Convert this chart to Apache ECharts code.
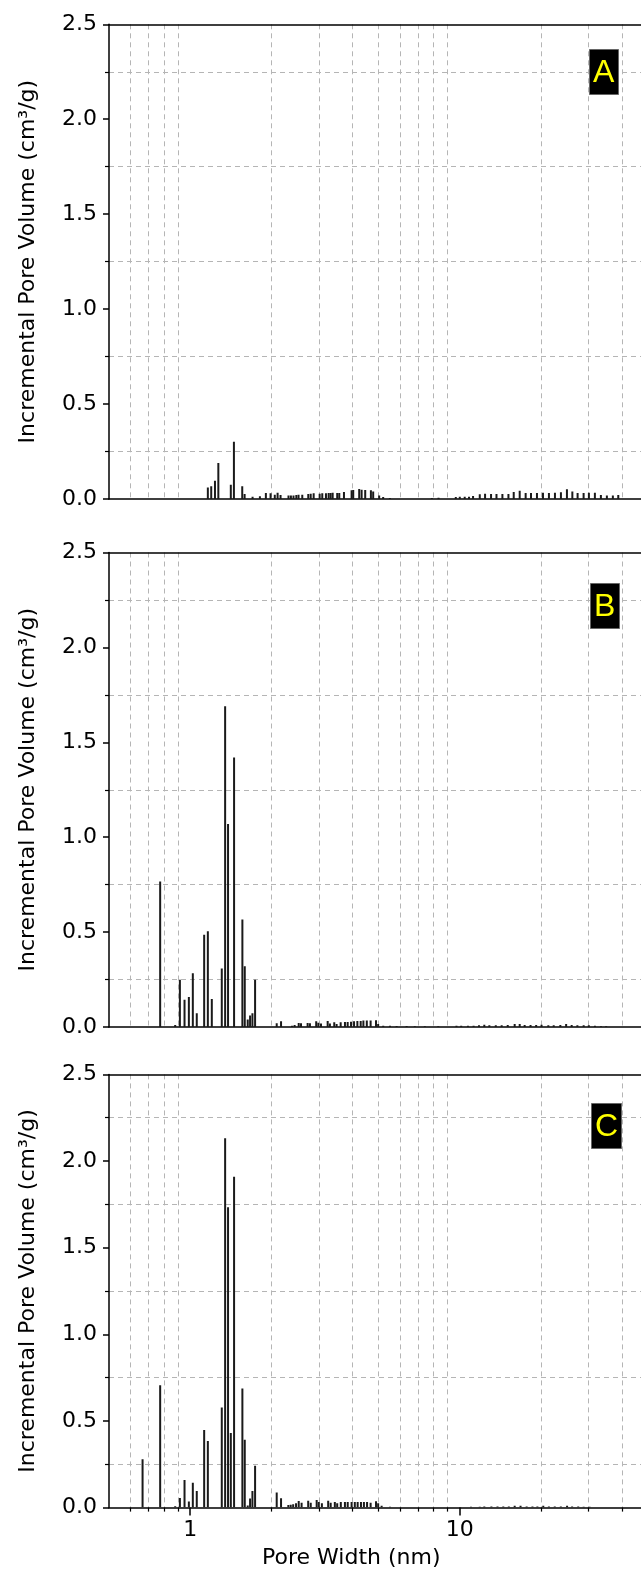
<!DOCTYPE html>
<html><head><meta charset="utf-8">
<script src="https://cdn.jsdelivr.net/npm/echarts@6/dist/echarts.min.js"></script>
<style>html,body{margin:0;padding:0;background:#fff}#c{width:641px;height:1573px}</style>
</head><body><div id="c"></div>
<script>
// ---- data (pore width in nm, incremental pore volume in cm3/g) ----
const widthA = [1.163,1.197,1.236,1.272,1.415,1.453,1.560,1.592,1.704,1.814,1.909,1.987,2.060,2.110,2.164,2.316,2.364,2.417,2.476,2.523,2.605,2.742,2.799,2.871,3.022,3.090,3.189,3.263,3.319,3.377,3.511,3.573,3.719,3.970,4.025,4.236,4.324,4.459,4.681,4.773,5.024,5.198,5.505,7.876,8.339,9.665,10.00,10.43,10.82,11.20,11.86,12.41,13.06,13.68,14.39,15.15,15.85,16.68,17.55,18.37,19.33,20.35,21.41,22.54,23.72,24.97,26.15,27.35,28.79,30.12,31.70,33.37,35.12,36.96,38.71];
const volA = [0.060,0.067,0.096,0.190,0.075,0.302,0.067,0.026,0.012,0.014,0.032,0.030,0.023,0.033,0.021,0.018,0.018,0.019,0.021,0.023,0.023,0.026,0.028,0.030,0.028,0.030,0.030,0.032,0.032,0.033,0.032,0.032,0.037,0.046,0.047,0.053,0.049,0.047,0.046,0.039,0.019,0.011,0.005,0.005,0.007,0.011,0.012,0.012,0.012,0.016,0.025,0.028,0.026,0.026,0.026,0.026,0.037,0.044,0.032,0.032,0.032,0.033,0.032,0.033,0.035,0.051,0.039,0.032,0.032,0.033,0.033,0.021,0.019,0.019,0.021];

const widthB = [0.774,0.880,0.916,0.953,0.989,1.023,1.058,1.127,1.163,1.203,1.310,1.348,1.382,1.455,1.562,1.594,1.635,1.668,1.702,1.741,2.094,2.173,2.387,2.440,2.527,2.577,2.727,2.781,2.934,2.988,3.056,3.236,3.298,3.423,3.493,3.616,3.751,3.838,3.950,4.053,4.170,4.290,4.390,4.520,4.670,4.890,4.980,5.200,5.510,5.830,6.350,6.810,7.420,8.320,9.720,10.12,10.72,11.25,11.78,12.33,12.87,13.60,14.30,15.06,15.98,16.68,17.40,18.30,19.20,20.10,21.30,22.30,23.60,24.80,26.00,27.30,28.80,30.10,31.70,33.40,34.90];
const volB = [0.767,0.010,0.249,0.144,0.158,0.283,0.073,0.486,0.504,0.148,0.308,1.69,1.07,1.42,0.566,0.320,0.039,0.060,0.073,0.249,0.020,0.030,0.007,0.011,0.021,0.020,0.021,0.020,0.030,0.023,0.018,0.032,0.018,0.025,0.016,0.025,0.027,0.027,0.028,0.030,0.032,0.032,0.034,0.034,0.034,0.036,0.016,0.007,0.007,0.005,0.005,0.004,0.004,0.004,0.007,0.007,0.007,0.007,0.009,0.012,0.009,0.009,0.009,0.011,0.016,0.016,0.011,0.011,0.011,0.012,0.009,0.009,0.011,0.016,0.011,0.009,0.009,0.009,0.007,0.004,0.004];

const widthC = [0.666,0.774,0.880,0.916,0.953,0.989,1.023,1.058,1.127,1.163,1.310,1.348,1.382,1.415,1.455,1.562,1.594,1.635,1.668,1.702,1.741,2.094,2.173,2.313,2.360,2.410,2.470,2.527,2.590,2.740,2.800,2.946,3.000,3.080,3.250,3.320,3.440,3.510,3.620,3.750,3.840,3.970,4.080,4.180,4.300,4.410,4.530,4.670,4.890,4.980,5.130,5.510,10.05,11.00,11.86,12.33,13.10,13.80,14.50,15.20,15.98,16.80,17.70,18.60,19.40,20.40,21.40,22.50,23.70,25.00,26.10,27.50,28.80,30.30];
const volC = [0.279,0.706,0.008,0.056,0.160,0.035,0.144,0.096,0.448,0.385,0.577,2.131,1.733,0.431,1.909,0.688,0.392,0.012,0.052,0.096,0.242,0.087,0.054,0.015,0.017,0.019,0.025,0.038,0.028,0.040,0.028,0.044,0.032,0.025,0.040,0.028,0.032,0.025,0.032,0.032,0.032,0.032,0.032,0.032,0.032,0.032,0.032,0.028,0.036,0.025,0.011,0.005,0.003,0.005,0.005,0.007,0.007,0.007,0.007,0.007,0.011,0.011,0.007,0.007,0.007,0.011,0.007,0.007,0.007,0.011,0.007,0.007,0.005,0.005];

const xMajorTicks = [1, 10];
const xMinorTicks = [0.6,0.7,0.8,0.9,2,3,4,5,6,7,8,9,20,30,40];
const yTickLabels = ['0.0','0.5','1.0','1.5','2.0','2.5'];
const panelLabels = ['A','B','C'];
const yTitle = 'Incremental Pore Volume (cm³/g)';
const xTitle = 'Pore Width (nm)';

// ---- layout ----
const FONT = 'DejaVu Sans';
const gridDefs = [
  {top: 24.3, height: 474.7},
  {top: 552.5, height: 474.5},
  {top: 1074.4, height: 433.2}
];
const boxPos = [{left: 589, top: 49}, {left: 590, top: 583}, {left: 591, top: 1103}];
const widths = [widthA, widthB, widthC];
const vols = [volA, volB, volC];

function renderBar(params, api) {
  const x = api.value(0), y = api.value(1);
  const p0 = api.coord([x, 0]);
  const p1 = api.coord([x, y]);
  return {type: 'rect', shape: {x: p0[0] - 1, y: p1[1], width: 2, height: p0[1] - p1[1]},
          style: {fill: '#1a1a1a'}};
}

const option = {animation: false, backgroundColor: '#fff', grid: [], xAxis: [], yAxis: [], series: [], title: []};
gridDefs.forEach((g, i) => {
  const last = i === 2;
  option.grid.push({left: 109, right: 0, top: g.top, height: g.height});
  option.xAxis.push({
    type: 'log', gridIndex: i, min: 0.5, max: 47, position: 'bottom',
    axisLine: {show: true, lineStyle: {color: '#000', width: 1.5}},
    axisTick: {show: last, customValues: xMajorTicks, length: 8, lineStyle: {color: '#000', width: 1.5}},
    axisLabel: {show: last, customValues: xMajorTicks, fontFamily: FONT, fontSize: 22, color: '#000', margin: 12,
                formatter: v => String(Math.round(v))},
    splitLine: {show: false}, minorTick: {show: false}
  });
  option.xAxis.push({
    type: 'log', gridIndex: i, min: 0.5, max: 47, position: 'bottom',
    axisLine: {show: false},
    axisTick: {show: last, customValues: xMinorTicks, length: 4, lineStyle: {color: '#000', width: 1.2}},
    axisLabel: {show: false},
    splitLine: {show: true, lineStyle: {color: '#b5b5b5', width: 1, type: [5, 4]}}
  });
  option.xAxis.push({
    type: 'log', gridIndex: i, min: 0.5, max: 47, position: 'top',
    axisLine: {show: true, lineStyle: {color: '#000', width: 1.5}},
    axisTick: {show: false}, axisLabel: {show: false}, splitLine: {show: false}
  });
  option.yAxis.push({
    type: 'value', gridIndex: i, min: 0, max: 2.5, interval: 0.5,
    axisLine: {show: true, lineStyle: {color: '#000', width: 1.5}},
    axisTick: {show: true, length: 6, lineStyle: {color: '#000', width: 1.5}},
    minorTick: {show: true, splitNumber: 2, length: 4, lineStyle: {color: '#000', width: 1.2}},
    axisLabel: {fontFamily: FONT, fontSize: 22, color: '#000', margin: 12,
                formatter: v => yTickLabels[Math.round(v / 0.5)]},
    splitLine: {show: false},
    minorSplitLine: {show: true, lineStyle: {color: '#b5b5b5', width: 1, type: [5, 4]}},
    name: yTitle, nameLocation: 'middle', nameGap: 70, nameRotate: 90,
    nameTextStyle: {fontFamily: FONT, fontSize: 22, color: '#000'}
  });
  option.series.push({
    type: 'custom', xAxisIndex: i * 3, yAxisIndex: i, clip: true,
    data: widths[i].map((w, k) => [w, vols[i][k]]),
    renderItem: renderBar, z: 5
  });
  option.title.push({
    text: panelLabels[i], left: boxPos[i].left, top: boxPos[i].top,
    backgroundColor: '#000', borderColor: '#666', borderWidth: 1, padding: [6, 4, 4, 4],
    textStyle: {color: '#ffff00', fontSize: 32, fontWeight: 'normal', fontFamily: 'Liberation Sans', lineHeight: 36}
  });
});
option.title.push({
  text: xTitle, left: 262, top: 1547,
  padding: 0,
  textStyle: {color: '#000', fontSize: 22, fontWeight: 'normal', fontFamily: FONT}
});

const chart = echarts.init(document.getElementById('c'));
chart.setOption(option);
</script>
</body></html>
